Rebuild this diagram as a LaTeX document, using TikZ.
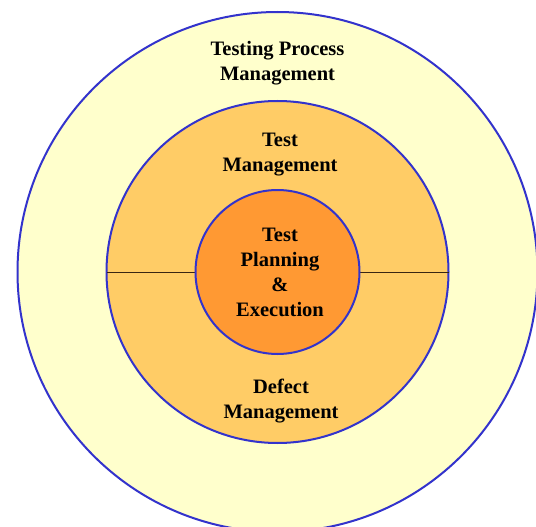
\documentclass[tikz,border=0pt]{standalone}
\usepackage{fontspec}
\setmainfont{Liberation Serif}
\usepackage{tikz}

\definecolor{ringblue}{HTML}{3333CC}
\definecolor{outerfill}{HTML}{FFFFCC}
\definecolor{midfill}{HTML}{FFCC66}
\definecolor{corefill}{HTML}{FF9933}

\tikzset{
  ring/.style={draw=ringblue, line width=2pt},
  lbl/.style={align=center, font=\bfseries\fontsize{20.5}{25}\selectfont}
}

\begin{document}
\begin{tikzpicture}[x=1pt, y=-1pt]
    \useasboundingbox (0,0) rectangle (536,527);

    \filldraw [ring, fill=outerfill] (277.5,272) circle (260);
    \filldraw [ring, fill=midfill] (277.5,272) circle (171);
    \draw [thin, black!70!brown] (106.5,272.5) coordinate (lft) -- (448.5,272.5) coordinate (rgt);
    \filldraw [ring, fill=corefill] (277.5,272) circle (82);

    \node [lbl] (proc) at (277.5,63) {Testing Process\\Management};
    \node [lbl] (mgmt) at (280,155) {Test\\Management};
    \node [lbl] (core) at (280,272) {Test\\Planning\\\&\\Execution};
    \node [lbl] (dfct) at (281,401) {Defect\\Management};

  \end{tikzpicture}
\end{document}
